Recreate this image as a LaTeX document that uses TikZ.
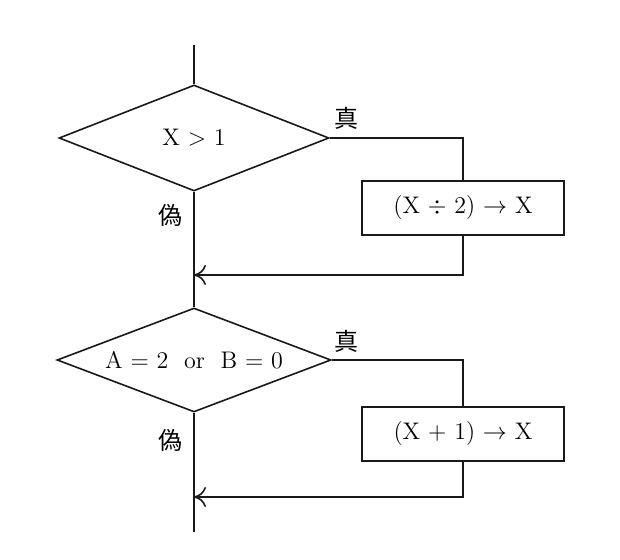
\documentclass[tikz,border=0pt]{standalone}
\usepackage{fontspec}
\newfontfamily\jpfont{Noto Sans CJK JP}
\usetikzlibrary{shapes.geometric,arrows.meta}
\definecolor{myline}{rgb}{0.1,0.1,0.1}
\tikzset{
	decision/.style={diamond,draw=myline,thick,inner sep=0pt,shape aspect=2.6,minimum width=135pt,minimum height=53pt,font=\large},
	process/.style={rectangle,draw=myline,thick,minimum width=101pt,minimum height=27pt,font=\large},
	flow/.style={draw=myline,thick},
	flowarrow/.style={flow,-{To[length=6pt,width=10pt]}},
	truelabel/.style={font=\jpfont\large}
}
\begin{document}
\begin{tikzpicture}[x=0.5pt,y=-0.5pt]
	\useasboundingbox (0,0) rectangle (620,560);
	
		%% first decision
		\coordinate (top) at (194,45);
		\node[decision] (d1) at (194,138) {X $>$ 1};
		\node[process] (p1) at (463,208) {(X $\div$ 2) $\rightarrow$ X};
		\coordinate (j1) at (194,275);
		\coordinate (r1) at (463,138);
		\coordinate (b1) at (463,275);
		\node[truelabel] (t1) at (346,118) {真};
		\node[truelabel] (f1) at (170,215) {偽};
		
		\draw[flow] (top) -- (d1.north);
		\draw[flow] (d1.east) -- (r1) -- (p1.north);
		\draw[flowarrow] (p1.south) -- (b1) -- (j1);
		
		%% second decision
		\node[decision,minimum height=52pt,minimum width=137pt] (d2) at (194,360) {A $=$ 2 \ or \ B $=$ 0};
		\node[process] (p2) at (463,434) {(X $+$ 1) $\rightarrow$ X};
		\coordinate (j2) at (194,497);
		\coordinate (r2) at (463,360);
		\coordinate (b2) at (463,497);
		\coordinate (bottom) at (194,532);
		\node[truelabel] (t2) at (346,341) {真};
		\node[truelabel] (f2) at (170,440) {偽};
		
		\draw[flow] (d1.south) -- (d2.north);
		\draw[flow] (d2.east) -- (r2) -- (p2.north);
		\draw[flowarrow] (p2.south) -- (b2) -- (j2);
		\draw[flow] (d2.south) -- (bottom);

	\end{tikzpicture}
\end{document}
